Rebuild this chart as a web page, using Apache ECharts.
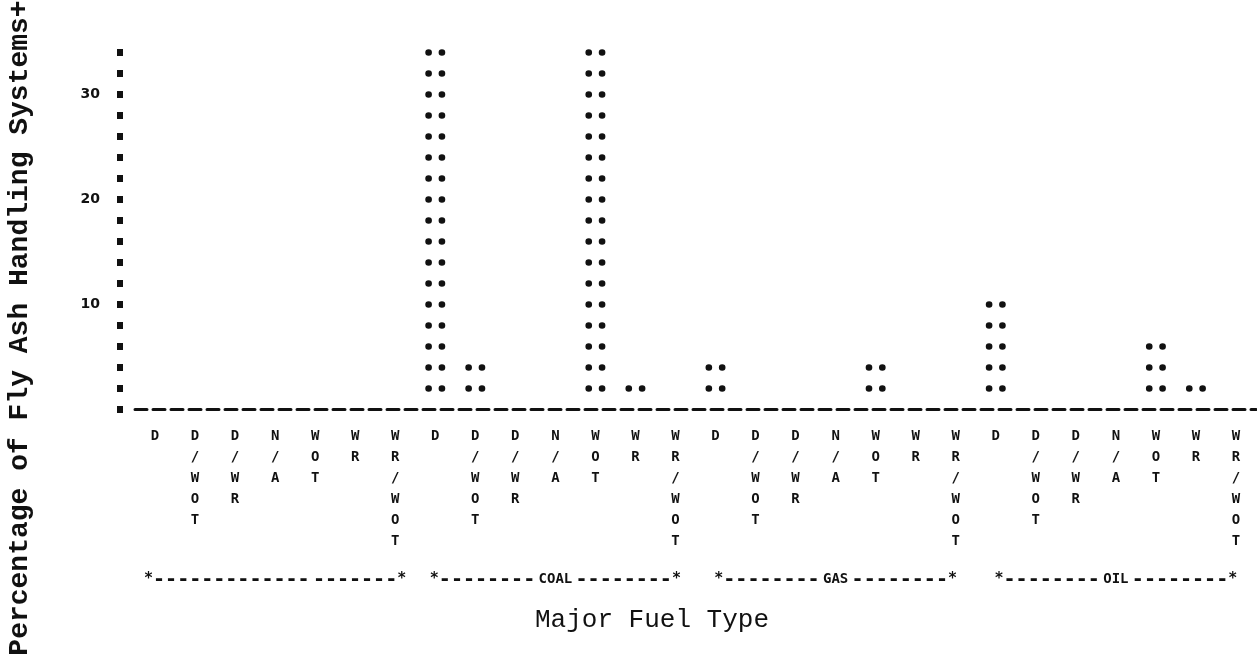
<!DOCTYPE html>
<html>
<head>
<meta charset="utf-8">
<script src="https://cdn.jsdelivr.net/npm/echarts@6/dist/echarts.min.js"></script>
<style>
  html, body { margin: 0; padding: 0; background: #fff; }
  #chart { width: 1257px; height: 668px; }
</style>
</head>
<body>
<div id="chart"></div>
<script>
// ---- data ----
const fuelGroups = ['', 'COAL', 'GAS', 'OIL'];
const systemTypes = ['D', 'D/WOT', 'D/WR', 'N/A', 'WOT', 'WR', 'WR/WOT'];
const blankValues = [0, 0, 0, 0, 0, 0, 0];
const coalValues  = [34, 4, 0, 0, 34, 2, 0];
const gasValues   = [4, 0, 0, 0, 4, 0, 0];
const oilValues   = [10, 0, 0, 0, 6, 2, 0];
const yTickLabels = [10, 20, 30];
const yAxisTitle = 'Percentage of Fly Ash Handling Systems+';
const xAxisTitle = 'Major Fuel Type';

// ---- build ----
const xCategories = [];
fuelGroups.forEach(() => systemTypes.forEach(t => xCategories.push(t)));
const allValues = [].concat(blankValues, coalValues, gasValues, oilValues);

const dotPair = 'path://M0,3a3,3 0 1,0 6,0a3,3 0 1,0 -6,0zM12,3a3,3 0 1,0 6,0a3,3 0 1,0 -6,0z';
const ink = '#111';

const chart = echarts.init(document.getElementById('chart'), null, { renderer: 'canvas' });
chart.setOption({
  backgroundColor: '#fff',
  animation: false,
  grid: { left: 135, right: 1, top: 52.5, height: 357 },
  xAxis: [
    {
      type: 'category',
      data: xCategories,
      boundaryGap: true,
      axisLine: { show: true, lineStyle: { color: ink, width: 3, type: 'dashed', dashOffset: 0 } },
      axisTick: { show: false },
      axisLabel: {
        interval: 0,
        margin: 16,
        color: ink,
        fontFamily: 'DejaVu Sans Mono',
        fontWeight: 'bold',
        fontSize: 14,
        lineHeight: 21,
        formatter: v => v.split('').join('\n')
      },
      splitLine: { show: false }
    },
    {
      type: 'category',
      data: fuelGroups,
      position: 'bottom',
      boundaryGap: true,
      axisLine: { show: false },
      axisTick: { show: false },
      axisLabel: {
        interval: 0,
        margin: 170,
        verticalAlign: 'middle',
        color: ink,
        formatter: v => v
          ? '{e|*}{d|--------} {t|' + v + '} {d|--------}{e|*}'
          : '{e|*}{d|-------------} {d|-------}{e|*}',
        rich: {
          e: { fontFamily: 'DejaVu Sans Mono', fontWeight: 'bold', fontSize: 15, color: ink },
          d: { fontFamily: 'DejaVu Sans Mono', fontWeight: 'bold', fontSize: 20, color: ink },
          t: { fontFamily: 'DejaVu Sans Mono', fontWeight: 'bold', fontSize: 14, color: ink }
        }
      }
    }
  ],
  yAxis: {
    type: 'value',
    min: 0,
    max: 34,
    interval: 2,
    offset: 12,
    axisLine: { show: false },
    axisTick: { show: true, length: 6, lineStyle: { color: ink, width: 7 } },
    splitLine: { show: false },
    axisLabel: {
      margin: 23,
      color: ink,
      fontFamily: 'DejaVu Sans',
      fontWeight: 'bold',
      fontSize: 14,
      formatter: v => (yTickLabels.indexOf(v) >= 0 ? String(v) : '')
    }
  },
  series: [
    {
      type: 'pictorialBar',
      xAxisIndex: 0,
      data: allValues,
      symbol: dotPair,
      symbolSize: [20, 6.5],
      symbolRepeat: true,
      symbolMargin: '7.5!',
      symbolOffset: [0, -10.5],
      itemStyle: { color: ink }
    }
  ],
  graphic: [
    {
      type: 'text',
      x: 20,
      y: 328,
      rotation: Math.PI / 2,
      style: {
        text: yAxisTitle,
        fill: ink,
        font: 'bold 28px "Liberation Mono"',
        textAlign: 'center',
        textVerticalAlign: 'middle'
      }
    },
    {
      type: 'text',
      x: 652,
      y: 620,
      style: {
        text: xAxisTitle,
        fill: ink,
        font: '26px "Liberation Mono"',
        textAlign: 'center',
        textVerticalAlign: 'middle'
      }
    }
  ]
});
</script>
</body>
</html>
